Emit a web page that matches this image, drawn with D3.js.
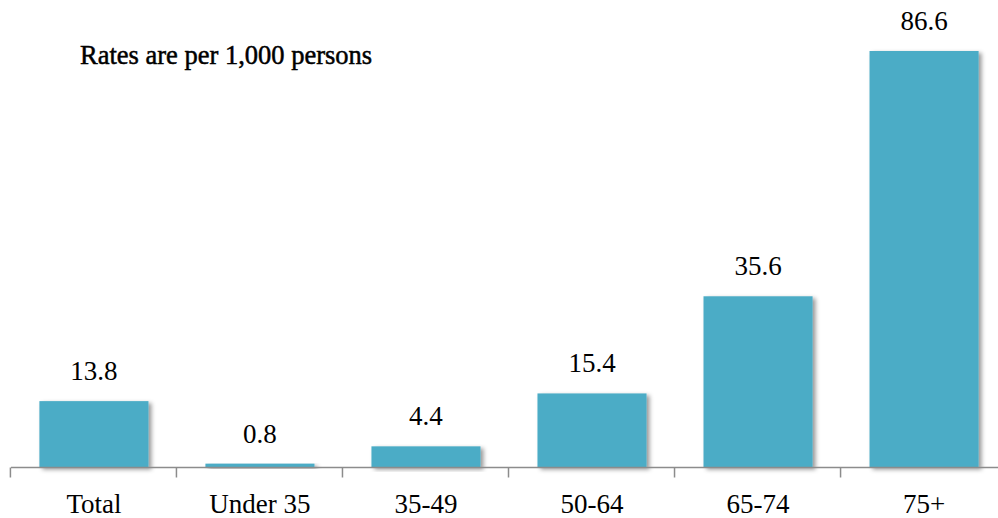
<!DOCTYPE html>
<html><head><meta charset="utf-8">
<script src="https://cdn.jsdelivr.net/npm/d3@7"></script>
<style>body{margin:0;background:#fff}svg{display:block}</style>
</head><body>
<script>
const categories = ["Total","Under 35","35-49","50-64","65-74","75+"];
const values = [13.8, 0.8, 4.4, 15.4, 35.6, 86.6];
const title = "Rates are per 1,000 persons";

const W = 998, H = 518;
const svg = d3.select("body").append("svg").attr("width", W).attr("height", H);
const font = "'Liberation Serif','Times New Roman',serif";

const defs = svg.append("defs");
const f = defs.append("filter").attr("id","sh").attr("x","-10%").attr("y","-10%").attr("width","130%").attr("height","130%");
f.append("feDropShadow").attr("dx",3).attr("dy",2).attr("stdDeviation",2).attr("flood-color","#000").attr("flood-opacity",0.4);

const x = d3.scaleBand().domain(categories).range([11, 1007]).paddingInner(0.343).paddingOuter(0.171);
const y = d3.scaleLinear().domain([0, 86.6]).range([467.5, 51]);

svg.append("g").selectAll("rect").data(values).join("rect")
  .attr("x", (d,i) => x(categories[i]))
  .attr("y", d => y(d))
  .attr("width", x.bandwidth())
  .attr("height", d => y(0) - y(d))
  .attr("fill", "#4BACC6")
  .attr("filter", "url(#sh)");

const ax = svg.append("g").attr("transform", `translate(0,${y(0)})`);
ax.append("line").attr("x1", 11).attr("x2", 998).attr("stroke", "#8c8c8c").attr("stroke-width", 1.5);
const step = x.step();
ax.selectAll("line.tk").data(categories).join("line").attr("class","tk")
  .attr("x1", (d) => x(d) - x.paddingInner()*step/2 - 0.5).attr("x2", (d) => x(d) - x.paddingInner()*step/2 - 0.5)
  .attr("y1", 0).attr("y2", 10).attr("stroke", "#8c8c8c").attr("stroke-width", 1.5);

svg.append("g").selectAll("text").data(categories).join("text")
  .attr("x", d => x(d) + x.bandwidth()/2)
  .attr("y", 513)
  .attr("text-anchor", "middle")
  .attr("font-family", font).attr("font-size", 27).attr("fill", "#000")
  .text(d => d);

svg.append("g").selectAll("text").data(values).join("text")
  .attr("x", (d,i) => x(categories[i]) + x.bandwidth()/2)
  .attr("y", d => y(d) - 21)
  .attr("text-anchor", "middle")
  .attr("font-family", font).attr("font-size", 27).attr("fill", "#000")
  .text(d => d.toFixed(1));

svg.append("text").attr("x", 80).attr("y", 64)
  .attr("font-family", font).attr("font-size", 26.5).attr("fill", "#000")
  .attr("stroke", "#000").attr("stroke-width", 0.5)
  .text(title);
</script>
</body></html>
